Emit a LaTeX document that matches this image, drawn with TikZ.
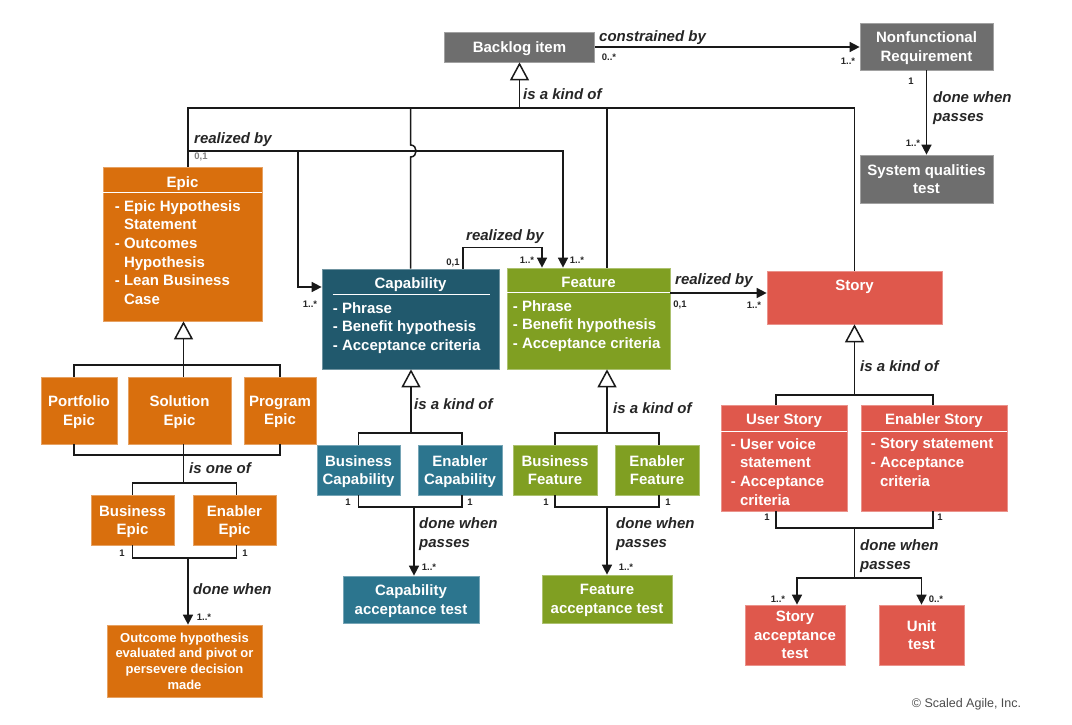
\documentclass[tikz,border=0pt]{standalone}
\usepackage{fontspec}
\setmainfont{Liberation Sans}
\usetikzlibrary{arrows.meta,calc}
\definecolor{epicorange}{RGB}{217,111,13}
\definecolor{capdark}{RGB}{33,89,109}
\definecolor{caplight}{RGB}{44,117,142}
\definecolor{featgreen}{RGB}{128,159,34}
\definecolor{storyred}{RGB}{223,88,76}
\definecolor{backgray}{RGB}{110,110,110}
\tikzset{
	umlbox/.style={fill=#1, draw=#1!65!white, line width=0.7pt, text=white, inner sep=0pt, text depth=0pt, align=center, font=\bfseries\fontsize{15}{18.6}\selectfont},
	smallbox/.style={umlbox=#1, font=\bfseries\fontsize{13}{15.7}\selectfont},
	boxtitle/.style={text=white, inner sep=0pt, anchor=base, font=\bfseries\fontsize{15}{18.6}\selectfont},
	boxbody/.style={text=white, inner sep=0pt, align=left, anchor=north west, font=\bfseries\fontsize{15}{18.6}\selectfont},
	sepline/.style={white, line width=1pt},
	assoc/.style={line width=1.5pt, black!90},
	towards/.style={assoc, -{Triangle[length=10pt,width=10pt]}},
	kindof/.style={assoc, -{Triangle[length=18pt,width=19pt,fill=white]}},
	lbl/.style={inner sep=0pt, anchor=base west, align=left, text=black!85, font=\bfseries\itshape\fontsize{15}{18.6}\selectfont},
	mult/.style={inner sep=0pt, text=black!85, font=\bfseries\fontsize{9.5}{11}\selectfont}
}
\begin{document}
\begin{tikzpicture}[x=1pt, y=-1pt]
			%%%%% START %%%%%
			\path[fill=white, use as bounding box] (0,0) rectangle (1072,725);
			
			\node[umlbox=backgray, minimum width=150pt, minimum height=30pt] (backlog) at (519.5,47) {Backlog item};
			\node[umlbox=backgray, minimum width=133pt, minimum height=47pt] (nfr) at (926.5,46.5) {Nonfunctional\\Requirement};
			\node[umlbox=backgray, minimum width=133pt, minimum height=48pt] (sqt) at (926.5,179) {System qualities\\test};
			
			% epic
			\node[umlbox=epicorange, minimum width=159pt, minimum height=154pt] (epic) at (182.5,244) {};
			\node[boxtitle] at ([yshift=-20.4pt]epic.north) {Epic};
			\draw[sepline] ([yshift=-26pt]epic.north west) -- ([yshift=-26pt]epic.north east);
			\node[boxbody] at ([xshift=12pt, yshift=-33.5pt]epic.north west) {- Epic Hypothesis\\\phantom{- }Statement\\- Outcomes\\\phantom{- }Hypothesis\\- Lean Business\\\phantom{- }Case};
			
			\node[umlbox=epicorange, minimum width=76pt, minimum height=67pt] (portfolio) at (79,410.5) {Portfolio\\Epic};
			\node[umlbox=epicorange, minimum width=103pt, minimum height=67pt] (solution) at (179.5,410.5) {Solution\\Epic};
			\node[umlbox=epicorange, minimum width=72pt, minimum height=67pt] (program) at (280,410.5) {Program\\Epic};
			\node[umlbox=epicorange, minimum width=83pt, minimum height=50pt] (bizepic) at (132.5,520) {Business\\Epic};
			\node[umlbox=epicorange, minimum width=83pt, minimum height=50pt] (enepic) at (234.5,520) {Enabler\\Epic};
			\node[smallbox=epicorange, minimum width=155pt, minimum height=72pt] (outcome) at (184.5,661) {Outcome hypothesis\\evaluated and pivot or\\persevere decision\\made};
			
			% capability
			\node[umlbox=capdark, minimum width=177pt, minimum height=100pt] (cap) at (410.5,319) {};
			\node[boxtitle] at ([yshift=-19.4pt]cap.north) {Capability};
			\draw[sepline] ([xshift=11pt, yshift=-26pt]cap.north west) -- ([xshift=-9pt, yshift=-26pt]cap.north east);
			\node[boxbody] at ([xshift=11pt, yshift=-33.5pt]cap.north west) {- Phrase\\- Benefit hypothesis\\- Acceptance criteria};
			
			\node[umlbox=caplight, minimum width=83pt, minimum height=50pt] (bizcap) at (358.5,470) {Business\\Capability};
			\node[umlbox=caplight, minimum width=84pt, minimum height=50pt] (encap) at (460,470) {Enabler\\Capability};
			\node[umlbox=caplight, minimum width=136pt, minimum height=47pt] (captest) at (411,599.5) {Capability\\acceptance test};
			
			% feature
			\node[umlbox=featgreen, minimum width=163pt, minimum height=101pt] (feat) at (588.5,318.5) {};
			\node[boxtitle] at ([yshift=-19.4pt]feat.north) {Feature};
			\draw[sepline] ([yshift=-25pt]feat.north west) -- ([yshift=-25pt]feat.north east);
			\node[boxbody] at ([xshift=6pt, yshift=-32.5pt]feat.north west) {- Phrase\\- Benefit hypothesis\\- Acceptance criteria};
			
			\node[umlbox=featgreen, minimum width=84pt, minimum height=50pt] (bizfeat) at (555,470) {Business\\Feature};
			\node[umlbox=featgreen, minimum width=84pt, minimum height=50pt] (enfeat) at (657,470) {Enabler\\Feature};
			\node[umlbox=featgreen, minimum width=130pt, minimum height=48pt] (feattest) at (607,599) {Feature\\acceptance test};
			
			% story
			\node[umlbox=storyred, minimum width=175pt, minimum height=53pt] (story) at (854.5,297.5) {};
			\node[boxtitle] at ([yshift=-19.4pt]story.north) {Story};
			
			\node[umlbox=storyred, minimum width=126pt, minimum height=106pt] (userstory) at (784,458) {};
			\node[boxtitle] at ([yshift=-19.4pt]userstory.north) {User Story};
			\draw[sepline] ([yshift=-27pt]userstory.north west) -- ([yshift=-27pt]userstory.north east);
			\node[boxbody] at ([xshift=10pt, yshift=-33.5pt]userstory.north west) {- User voice\\\phantom{- }statement\\- Acceptance\\\phantom{- }criteria};
			
			\node[umlbox=storyred, minimum width=146pt, minimum height=106pt] (enstory) at (934,458) {};
			\node[boxtitle] at ([yshift=-19.4pt]enstory.north) {Enabler Story};
			\draw[sepline] ([yshift=-27pt]enstory.north west) -- ([yshift=-27pt]enstory.north east);
			\node[boxbody] at ([xshift=10pt, yshift=-33.5pt]enstory.north west) {- Story statement\\- Acceptance\\\phantom{- }criteria};
			
			\node[umlbox=storyred, minimum width=100pt, minimum height=60pt] (storytest) at (795,635) {Story\\acceptance\\test};
			\node[umlbox=storyred, minimum width=85pt, minimum height=60pt] (unittest) at (921.5,635) {Unit\\test};
			
			% backlog links
			\coordinate (kind) at (519.5,108);
			\draw[kindof] (kind) -- (backlog.south);
			\draw[assoc] ([xshift=5.5pt]epic.north) |- (kind) -| (story.north);
			\draw[assoc] (cap.north) -- (410.5,157) .. controls (418,157) and (418,145) .. (410.5,145) -- (cap.north |- kind);
			\coordinate (feat up) at ([xshift=18.5pt]feat.north);
			\draw[assoc] (feat up) -- (feat up |- kind);
			\draw[towards] (backlog.east) -- (backlog.east -| nfr.west);
			\draw[towards] (nfr) -- (sqt);
			
			% realized by
			\coordinate (epic real) at (188,151);
			\coordinate (epic fork) at (298,151);
			\draw[towards] (epic real) -| ([xshift=-25.5pt]feat.north);
			\draw[towards] (epic fork) |- ([yshift=32pt]cap.west);
			\draw[towards] ([xshift=52.5pt]cap.north) -- ++(0,-21) -| ([xshift=-46.5pt]feat.north);
			\draw[towards] ([yshift=25.5pt]feat.east) -- ([yshift=25.5pt]feat.east -| story.west);
			
			% epic tree
			\coordinate (epic kind) at (183.5,365);
			\draw[kindof] (epic kind) -- (epic kind |- epic.south);
			\draw[assoc] ([xshift=-5pt]portfolio.north) |- (epic kind) -| (program.north);
			\draw[assoc] (epic kind) -- (epic kind |- solution.north);
			\coordinate (epic one) at (183.5,455);
			\draw[assoc] ([xshift=-5pt]portfolio.south) |- (epic one) -| (program.south);
			\draw[assoc] (epic kind |- solution.south) -- (epic one) -- ++(0,28) coordinate (epic split);
			\draw[assoc] (bizepic.north) |- (epic split) -| ([xshift=2pt]enepic.north);
			\coordinate (epic done) at (188,558);
			\draw[assoc] (bizepic.south) |- (epic done) -| ([xshift=2pt]enepic.south);
			\draw[towards] (epic done) -- (epic done |- outcome.north);
			
			% capability tree
			\coordinate (cap kind) at (411,433);
			\draw[kindof] (cap kind) -- (cap kind |- cap.south);
			\draw[assoc] (bizcap.north) |- (cap kind) -| ([xshift=2pt]encap.north);
			\coordinate (cap done) at (414,507);
			\draw[assoc] (bizcap.south) |- (cap done) -| ([xshift=2pt]encap.south);
			\draw[towards] (cap done) -- (cap done |- captest.north);
			
			% feature tree
			\coordinate (feat kind) at (607,433);
			\draw[kindof] (feat kind) -- (feat kind |- feat.south);
			\draw[assoc] (bizfeat.north) |- (feat kind) -| ([xshift=2pt]enfeat.north);
			\coordinate (feat done) at (607,507);
			\draw[assoc] (bizfeat.south) |- (feat done) -| ([xshift=2pt]enfeat.south);
			\draw[towards] (feat done) -- (feat done |- feattest.north);
			
			% story tree
			\coordinate (story kind) at (854.5,395);
			\draw[kindof] (story kind) -- (story.south);
			\draw[assoc] ([xshift=-8pt]userstory.north) |- (story kind) -| ([xshift=-1pt]enstory.north);
			\coordinate (story done) at (854.5,528);
			\draw[assoc] ([xshift=-8pt]userstory.south) |- (story done) -| ([xshift=-1pt]enstory.south);
			\draw[assoc] (story done) -- ++(0,50) coordinate (story split);
			\draw[towards] (story split) -| ([xshift=2pt]storytest.north);
			\draw[towards] (story split) -| (unittest.north);
			
			% labels
			\node[lbl] at (599,41.4) {constrained by};
			\node[lbl] at (523,99.4) {is a kind of};
			\node[lbl, anchor=north west] at (933,91.5) {done when\\passes};
			\node[lbl] at (194,143.4) {realized by};
			\node[lbl] at (466,240.4) {realized by};
			\node[lbl] at (675,284.4) {realized by};
			\node[lbl] at (860,371.4) {is a kind of};
			\node[lbl] at (189,473.4) {is one of};
			\node[lbl] at (414,409.4) {is a kind of};
			\node[lbl] at (613,413.4) {is a kind of};
			\node[lbl] at (193,594.4) {done when};
			\node[lbl, anchor=north west] at (419,517.5) {done when\\passes};
			\node[lbl, anchor=north west] at (616,517.5) {done when\\passes};
			\node[lbl, anchor=north west] at (860,539.5) {done when\\passes};
			
			% multiplicities
			\node[mult] at (609,57) {0..*};
			\node[mult] at (848,61) {1..*};
			\node[mult] at (911,81) {1};
			\node[mult] at (913,143) {1..*};
			\node[mult, text=black!50] at (201,157) {0,1};
			\node[mult] at (310,304) {1..*};
			\node[mult] at (453,263) {0,1};
			\node[mult] at (527,260) {1..*};
			\node[mult] at (577,260) {1..*};
			\node[mult] at (680,305) {0,1};
			\node[mult] at (754,305) {1..*};
			\node[mult] at (767,517) {1};
			\node[mult] at (940,517) {1};
			\node[mult] at (778,599) {1..*};
			\node[mult] at (936,599) {0..*};
			\node[mult] at (122,553) {1};
			\node[mult] at (245,553) {1};
			\node[mult] at (204,617) {1..*};
			\node[mult] at (348,502) {1};
			\node[mult] at (470,502) {1};
			\node[mult] at (429,567) {1..*};
			\node[mult] at (546,502) {1};
			\node[mult] at (668,502) {1};
			\node[mult] at (626,567) {1..*};
			
			\node[inner sep=0pt, anchor=base, text=black!70, font=\fontsize{12.5}{14}\selectfont] at (966.5,707.5) {© Scaled Agile, Inc.};
			%%%%% END %%%%%
\end{tikzpicture}
\end{document}
